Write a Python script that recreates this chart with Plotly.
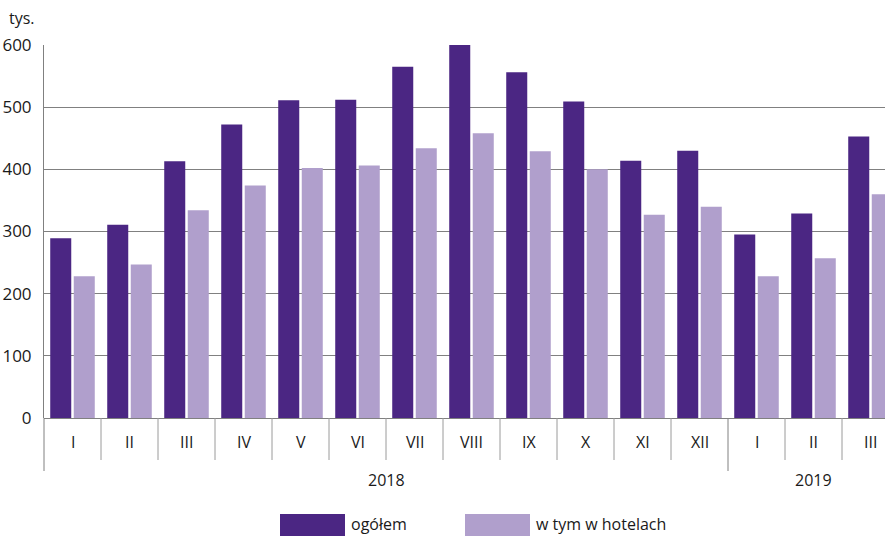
import plotly.graph_objects as go

months = ["I", "II", "III", "IV", "V", "VI", "VII", "VIII", "IX", "X", "XI", "XII", "I", "II", "III"]
years = ["2018"] * 12 + ["2019"] * 3
ogolem = [289, 311, 413, 472, 511, 512, 565, 600, 556, 509, 414, 430, 295, 329, 453]
hotele = [228, 247, 334, 374, 402, 406, 434, 458, 429, 400, 327, 340, 228, 257, 360]
y_ticks = [0, 100, 200, 300, 400, 500, 600]

DARK = "#4b2683"
LIGHT = "#b09fcc"
GRID = "#808080"
SEP = "#9a9a9a"
TXT = "#1a1a1a"
FONT = "Open Sans"

x = list(range(len(months)))

fig = go.Figure()
fig.add_trace(go.Bar(x=x, y=ogolem, name="ogółem", marker=dict(color=DARK, line=dict(width=0))))
fig.add_trace(go.Bar(x=x, y=hotele, name="w tym w hotelach", marker=dict(color=LIGHT, line=dict(width=0))))

W, H = 885, 536
PL, PT, PB, PR = 44, 45, 418, 885  # plot area in page pixels
ML, MT, MB = PL, PT, H - PB
plot_w = PR - PL
plot_h = PB - PT
cell = 57.0
x_start = -0.5
x_end = x_start + plot_w / cell

def data_to_paper(v):
    return (v - x_start) / (x_end - x_start)

def px_x(p):
    return (p - PL) / plot_w

def px_y(p):
    return (PB - p) / plot_h

shapes = []
annotations = []

# month separators / year separators
for i in range(len(months)):
    b = i - 0.5
    long_sep = (i == 0) or (years[i] != years[i - 1])
    xp = data_to_paper(b)
    shapes.append(dict(type="line", xref="paper", yref="paper", ysizemode="pixel", yanchor=0,
                       x0=xp, x1=xp, y0=-(53 if long_sep else 42), y1=0,
                       line=dict(color=GRID if long_sep else SEP, width=1)))
    annotations.append(dict(x=i, y=0, xref="x", yref="paper", yshift=-24, text=months[i],
                            showarrow=False, font=dict(family=FONT, size=16, color=TXT),
                            xanchor="center", yanchor="middle"))

# year labels
uniq = []
for yv in years:
    if yv not in uniq:
        uniq.append(yv)
for yv in uniq:
    idx = [i for i, v in enumerate(years) if v == yv]
    annotations.append(dict(x=(idx[0] + idx[-1]) / 2, y=0, xref="x", yref="paper", yshift=-62,
                            text=yv, showarrow=False, font=dict(family=FONT, size=16, color=TXT),
                            xanchor="center", yanchor="middle"))

annotations.append(dict(x=px_x(22), y=px_y(18), xref="paper", yref="paper", text="tys.",
                        showarrow=False, font=dict(family=FONT, size=16, color=TXT),
                        xanchor="center", yanchor="middle"))

# custom legend
for (x0, x1, col, label) in [(280, 345, DARK, "ogółem"), (465, 530, LIGHT, "w tym w hotelach")]:
    shapes.append(dict(type="rect", xref="paper", yref="paper", x0=px_x(x0), x1=px_x(x1),
                       y0=px_y(537), y1=px_y(514), fillcolor=col, line=dict(width=0)))
    annotations.append(dict(x=px_x(x1 + 4), y=px_y(524), xref="paper", yref="paper", text=label,
                            showarrow=False, font=dict(family=FONT, size=16, color=TXT),
                            xanchor="left", yanchor="middle"))

fig.update_layout(
    width=W, height=H,
    margin=dict(l=ML, r=0, t=MT, b=MB, pad=0, autoexpand=False),
    paper_bgcolor="white", plot_bgcolor="white",
    barmode="group", bargap=0.175, bargroupgap=0.106,
    showlegend=False,
    font=dict(family=FONT, size=16, color=TXT),
    xaxis=dict(range=[x_start, x_end], showticklabels=False, ticks="", showgrid=False,
               zeroline=False, showline=False, fixedrange=True, automargin=False),
    yaxis=dict(range=[0, 600], tickvals=y_ticks, showgrid=True, gridcolor=GRID, gridwidth=1,
               zeroline=True, zerolinecolor=GRID, zerolinewidth=1, automargin=False,
               showline=True, linecolor=GRID, linewidth=1, ticks="", fixedrange=True,
               ticklabelstandoff=8, tickfont=dict(family=FONT, size=17, color=TXT)),
    shapes=shapes,
    annotations=annotations,
)

fig.write_html("out.html", config={"displayModeBar": False, "staticPlot": True},
               post_script="document.body.style.margin='0';document.body.style.overflow='hidden';")
